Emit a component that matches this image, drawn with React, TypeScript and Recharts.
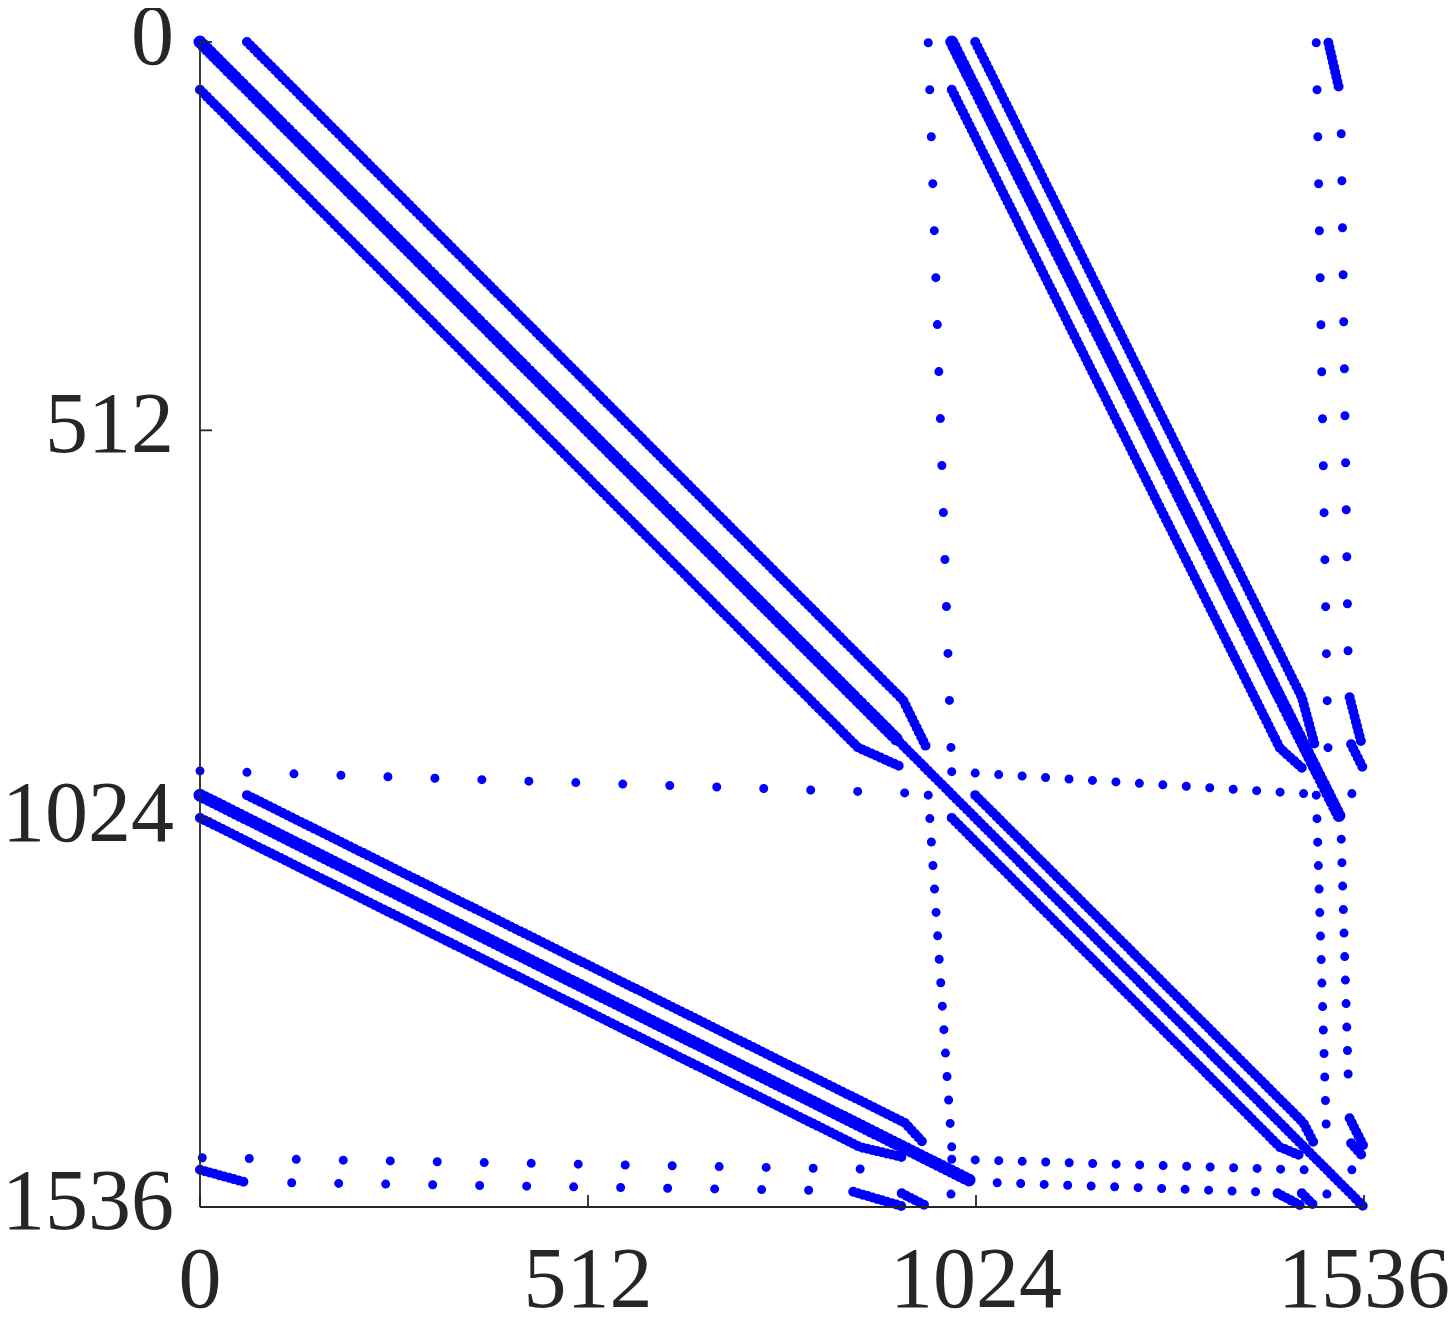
import React from 'react';
import { ComposedChart, Line, Scatter, XAxis, YAxis } from 'recharts';

// sparsity pattern of a 1536 x 1536 matrix as [column, row] polylines
const SIZE = 1536;
const TICKS = [0, 512, 1024, 1536];

// dense bands
const mainDiagonal = [[0, 0], [1536, 1536]];
const mainTopLeft = [[0, 0], [922, 922]];
const topLeftUpper = [[62, 0], [928, 868], [959, 931]];
const topLeftLower = [[0, 63], [868, 930], [928, 957]];
const topRightUpper = [[1023, 0], [1454, 864], [1471, 927]];
const topRightMid = [[992, 0], [1504, 1022]];
const topRightLower = [[992, 63], [1425, 931], [1454, 957]];
const bottomLeftUpper = [[62, 993], [930, 1425], [957, 1454]];
const bottomLeftMid = [[0, 993], [1020, 1503]];
const bottomLeftLower = [[0, 1023], [871, 1457], [930, 1471]];
const bottomRightUpper = [[1023, 993], [1456, 1425], [1471, 1454]];
const bottomRightLower = [[992, 1023], [1425, 1457], [1454, 1469]];

// short stubs near the edges
const stubs = [
  [[1489, 1], [1503, 61]],
  [[1517, 864], [1533, 926]],
  [[1519, 926], [1535, 958]],
  [[1517, 1419], [1535, 1455]],
  [[1519, 1452], [1536, 1471]],
  [[0, 1487], [62, 1504]],
  [[862, 1516], [930, 1536]],
  [[926, 1518], [959, 1535]],
  [[1422, 1518], [1456, 1536]],
  [[1454, 1518], [1471, 1535]],
];

// sparse rows / columns (coarse and fine spacing of the dots)
const coarseRows = [
  [[0, 961], [930, 990]],
  [[3, 1471], [932, 1487]],
  [[121, 1504], [805, 1514]],
];
const coarseCols = [
  [[961, 1], [992, 962]],
  [[1473, 1], [1489, 961]],
  [[1506, 121], [1515, 805]],
];
const fineRows = [
  [[992, 962], [1457, 991]],
  [[992, 1473], [1457, 1487]],
  [[1052, 1504], [1394, 1516]],
];
const fineCols = [
  [[961, 993], [992, 1457]],
  [[1473, 993], [1487, 1457]],
  [[1506, 1051], [1516, 1391]],
];
const loneDots = [[1520, 991], [1520, 1487], [991, 1519], [1487, 1519]];

const BLUE = '#0000ff';
const INK = '#262626';
const FONT = '"Liberation Serif", "Times New Roman", serif';
const TICK_LEN = 12;

const toPts = (poly: number[][]) => poly.map(([x, y]) => ({ x, y }));

const solidBands = [
  mainDiagonal,
  topLeftUpper,
  topLeftLower,
  topRightUpper,
  topRightLower,
  bottomLeftUpper,
  bottomLeftLower,
  bottomRightUpper,
  bottomRightLower,
  ...stubs,
];
const thickBands = [mainTopLeft, topRightMid, bottomLeftMid];
const coarseDotted = [...coarseRows, ...coarseCols];
const fineDotted = [...fineRows, ...fineCols];

const BottomTick = ({ x, y, payload }: any) => (
  <g>
    <line x1={x} y1={y} x2={x} y2={y - TICK_LEN} stroke={INK} strokeWidth={1.8} />
    <text x={x} y={y + 100} textAnchor="middle" fontSize={86} fontFamily={FONT} fill={INK}>
      {payload.value}
    </text>
  </g>
);

const LeftTick = ({ x, y, payload }: any) => (
  <g>
    <line x1={x} y1={y} x2={x + TICK_LEN} y2={y} stroke={INK} strokeWidth={1.8} />
    <text x={x - 26} y={y + 22} textAnchor="end" fontSize={86} fontFamily={FONT} fill={INK}>
      {payload.value}
    </text>
  </g>
);

const TopTick = ({ x, y }: any) => (
  <line x1={x} y1={y} x2={x} y2={y + TICK_LEN} stroke={INK} strokeWidth={1.8} />
);

const RightTick = ({ x, y }: any) => (
  <line x1={x} y1={y} x2={x - TICK_LEN} y2={y} stroke={INK} strokeWidth={1.8} />
);

const lineProps = {
  dataKey: 'y',
  type: 'linear' as const,
  stroke: BLUE,
  dot: false,
  activeDot: false,
  isAnimationActive: false,
  strokeLinecap: 'round' as const,
  strokeLinejoin: 'round' as const,
  legendType: 'none' as const,
};

export default function App() {
  const axisLine = { stroke: INK, strokeWidth: 1.8 };
  return (
    <ComposedChart
      width={1440}
      height={1309}
      margin={{ top: 34, right: 84, bottom: 0, left: 0 }}
      style={{ overflow: 'visible' }}
    >
      <XAxis
        dataKey="x"
        type="number"
        domain={[0, SIZE]}
        ticks={TICKS}
        height={110}
        tickSize={0}
        tickMargin={0}
        tickLine={false}
        axisLine={axisLine}
        tick={<BottomTick />}
        interval={0}
      />
      <XAxis
        xAxisId="top"
        orientation="top"
        type="number"
        domain={[0, SIZE]}
        ticks={TICKS}
        height={0}
        tickSize={0}
        tickMargin={0}
        tickLine={false}
        axisLine={axisLine}
        tick={<TopTick />}
        interval={0}
      />
      <YAxis
        type="number"
        reversed
        domain={[0, SIZE]}
        ticks={TICKS}
        width={192}
        tickSize={0}
        tickMargin={0}
        tickLine={false}
        axisLine={axisLine}
        tick={<LeftTick />}
        interval={0}
      />
      <YAxis
        yAxisId="right"
        orientation="right"
        type="number"
        reversed
        domain={[0, SIZE]}
        ticks={TICKS}
        width={0}
        tickSize={0}
        tickMargin={0}
        tickLine={false}
        axisLine={axisLine}
        tick={<RightTick />}
        interval={0}
      />

      {/* bands are drawn as tightly packed dots so the edges look like the spy markers */}
      {solidBands.map((poly, i) => (
        <Line
          key={`band-${i}`}
          {...lineProps}
          data={toPts(poly)}
          strokeWidth={10}
          strokeDasharray="0 5"
        />
      ))}
      {thickBands.map((poly, i) => (
        <Line
          key={`thick-${i}`}
          {...lineProps}
          data={toPts(poly)}
          strokeWidth={13}
          strokeDasharray="0 5"
        />
      ))}
      {coarseDotted.map((poly, i) => (
        <Line
          key={`coarse-${i}`}
          {...lineProps}
          data={toPts(poly)}
          strokeWidth={9}
          strokeDasharray="0 47"
        />
      ))}
      {fineDotted.map((poly, i) => (
        <Line
          key={`fine-${i}`}
          {...lineProps}
          data={toPts(poly)}
          strokeWidth={9}
          strokeDasharray="0 23.5"
        />
      ))}
      <Scatter data={toPts(loneDots)} dataKey="y" fill={BLUE} isAnimationActive={false} legendType="none" />
    </ComposedChart>
  );
}
